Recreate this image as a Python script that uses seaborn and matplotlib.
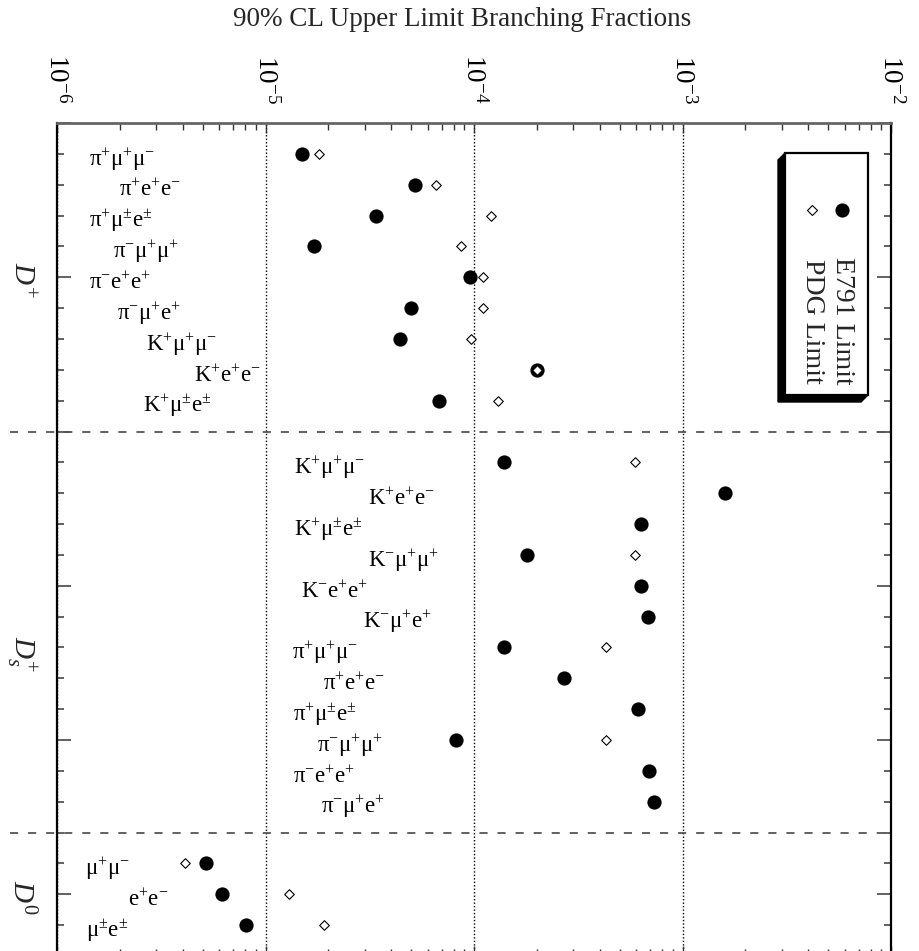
import numpy as np
import pandas as pd
import matplotlib
matplotlib.use("Agg")
import matplotlib.pyplot as plt
import matplotlib.transforms as mtransforms
from matplotlib.patches import Polygon, Rectangle
from matplotlib.lines import Line2D
from matplotlib.ticker import LogLocator, FixedLocator, NullFormatter, LogFormatterMathtext
import seaborn as sns

# ---------------- data ----------------
title = "90% CL Upper Limit Branching Fractions"
groups = [r"$D^{+}$", r"$D_{s}^{+}$", r"$D^{\mathit{0}}$"]

dplus_modes = [r"$\mathrm{π^{+}μ^{+}μ^{-}}$", r"$\mathrm{π^{+}e^{+}e^{-}}$", r"$\mathrm{π^{+}μ^{\pm}e^{\pm}}$",
               r"$\mathrm{π^{-}μ^{+}μ^{+}}$", r"$\mathrm{π^{-}e^{+}e^{+}}$", r"$\mathrm{π^{-}μ^{+}e^{+}}$",
               r"$\mathrm{K^{+}μ^{+}μ^{-}}$", r"$\mathrm{K^{+}e^{+}e^{-}}$", r"$\mathrm{K^{+}μ^{\pm}e^{\pm}}$"]
dplus_e791 = [1.5e-5, 5.2e-5, 3.4e-5, 1.7e-5, 9.6e-5, 5.0e-5, 4.4e-5, 2.0e-4, 6.8e-5]
dplus_pdg = [1.8e-5, 6.6e-5, 1.2e-4, 8.7e-5, 1.1e-4, 1.1e-4, 9.7e-5, 2.0e-4, 1.3e-4]

ds_modes = [r"$\mathrm{K^{+}μ^{+}μ^{-}}$", r"$\mathrm{K^{+}e^{+}e^{-}}$", r"$\mathrm{K^{+}μ^{\pm}e^{\pm}}$",
            r"$\mathrm{K^{-}μ^{+}μ^{+}}$", r"$\mathrm{K^{-}e^{+}e^{+}}$", r"$\mathrm{K^{-}μ^{+}e^{+}}$",
            r"$\mathrm{π^{+}μ^{+}μ^{-}}$", r"$\mathrm{π^{+}e^{+}e^{-}}$", r"$\mathrm{π^{+}μ^{\pm}e^{\pm}}$",
            r"$\mathrm{π^{-}μ^{+}μ^{+}}$", r"$\mathrm{π^{-}e^{+}e^{+}}$", r"$\mathrm{π^{-}μ^{+}e^{+}}$"]
ds_e791 = [1.4e-4, 1.6e-3, 6.3e-4, 1.8e-4, 6.3e-4, 6.8e-4, 1.4e-4, 2.7e-4, 6.1e-4, 8.2e-5, 6.9e-4, 7.3e-4]
ds_pdg = [5.9e-4, np.nan, np.nan, 5.9e-4, np.nan, np.nan, 4.3e-4, np.nan, np.nan, 4.3e-4, np.nan, np.nan]

d0_modes = [r"$\mathrm{μ^{+}μ^{-}}$", r"$\mathrm{e^{+}e^{-}}$", r"$\mathrm{μ^{\pm}e^{\pm}}$"]
d0_e791 = [5.2e-6, 6.2e-6, 8.1e-6]
d0_pdg = [4.1e-6, 1.3e-5, 1.9e-5]

legend_labels = ["E791 Limit", "PDG Limit"]

# ---------------- layout (not data) ----------------
dplus_label_x = [0.038, 0.074, 0.038, 0.067, 0.038, 0.072, 0.107, 0.164, 0.103]
ds_label_x = [0.284, 0.373, 0.284, 0.373, 0.293, 0.367, 0.282, 0.319, 0.283, 0.312, 0.283, 0.317]
d0_label_x = [0.034, 0.085, 0.035]
group_label_slot = [5.1, 17.2, 25.1]

# ---------------- build table ----------------
rows = []
slot = 1
seps = []
all_groups = [(dplus_modes, dplus_e791, dplus_pdg, dplus_label_x),
              (ds_modes, ds_e791, ds_pdg, ds_label_x),
              (d0_modes, d0_e791, d0_pdg, d0_label_x)]
for gi, (modes, e791, pdg, lx) in enumerate(all_groups):
    for m, e, p, x in zip(modes, e791, pdg, lx):
        rows.append(dict(group=gi, mode=m, e791=e, pdg=p, slot=slot, lx=x))
        slot += 1
    if gi < len(all_groups) - 1:
        seps.append(slot)
        slot += 1
df = pd.DataFrame(rows)
n_slots = slot  # bottom edge

# ---------------- style ----------------
sns.set_style("ticks")
plt.rcParams["font.family"] = ["Liberation Serif", "DejaVu Serif"]
plt.rcParams["mathtext.fontset"] = "custom"
plt.rcParams["mathtext.rm"] = "Liberation Serif"
plt.rcParams["mathtext.it"] = "Liberation Serif:italic"
plt.rcParams["mathtext.bf"] = "Liberation Serif:bold"

W, H = 919, 951
fig = plt.figure(figsize=(W / 100, H / 100), dpi=100)
ax = fig.add_axes([57 / W, 1 - 956 / H, 834 / W, 833 / H])

# data points
sns.scatterplot(data=df, x="e791", y="slot", ax=ax, marker="o", s=105, color="black",
                edgecolor="black", linewidth=0, legend=False, zorder=3)
sns.scatterplot(data=df.dropna(subset=["pdg"]), x="pdg", y="slot", ax=ax, marker="D", s=24,
                facecolor="white", edgecolor="black", linewidth=0.8, legend=False, zorder=4)

ax.set_xscale("log")
ax.set_xlim(1e-6, 1e-2)
ax.set_ylim(n_slots, 0)
ax.set_xlabel("")
ax.set_ylabel("")

# x axis: labels on top, rotated
ax.xaxis.set_major_locator(LogLocator(base=10, numticks=10))
ax.xaxis.set_minor_locator(LogLocator(base=10, subs=np.arange(2, 10), numticks=20))
ax.xaxis.set_major_formatter(LogFormatterMathtext())
ax.xaxis.set_minor_formatter(NullFormatter())
ax.tick_params(axis="x", which="both", top=True, bottom=True, labeltop=True, labelbottom=False,
               direction="in", colors="#333333", labelcolor="black", labelsize=19.5,
               labelrotation=-90, pad=14)
ax.tick_params(axis="x", which="major", length=7, width=1.0)
ax.tick_params(axis="x", which="minor", length=5, width=1.0)

# y axis: slot ticks, no labels
ax.yaxis.set_major_locator(FixedLocator(np.arange(0, n_slots + 1, 5)))
ax.yaxis.set_minor_locator(FixedLocator(np.arange(0, n_slots + 1, 1)))
ax.tick_params(axis="y", which="both", left=True, right=True, labelleft=False, labelright=False,
               direction="in", colors="#555555")
ax.tick_params(axis="y", which="major", length=10, width=1.3)
ax.tick_params(axis="y", which="minor", length=5, width=1.3)

for side in ["left", "right", "bottom"]:
    ax.spines[side].set_color("black")
    ax.spines[side].set_linewidth(1.6)
ax.spines["top"].set_color("#666666")
ax.spines["top"].set_linewidth(2.0)

# vertical dotted grid at decades
ax.xaxis.grid(True, which="major", color="black", linestyle=(0, (1, 1.5)), linewidth=1.0)
ax.yaxis.grid(False)

# dashed group separators
ax.hlines(seps, xmin=-47 / 834, xmax=1.0, transform=ax.get_yaxis_transform(), clip_on=False,
          colors="#555555", linestyles=(0, (4.5, 5.5)), linewidth=1.3, zorder=2)

# decay mode labels
ytrans = ax.get_yaxis_transform()
for _, r in df.iterrows():
    ax.text(r["lx"], r["slot"] + 0.38, r["mode"], transform=ytrans, ha="left", va="baseline",
            fontsize=16.5, color="black")

# group labels (rotated)
for g, ys in zip(groups, group_label_slot):
    ax.text(-36 / 834, ys, g, transform=ytrans, ha="center", va="center", rotation=-90,
            fontsize=21, fontstyle="italic", clip_on=False)

# title
fig.text(462 / W, 1 - 19 / H, title, ha="center", va="center", fontsize=19.5)

# legend drawn in pixel coordinates (rotated layout)
pix = mtransforms.Affine2D().scale(1 / W, -1 / H).translate(0, 1) + fig.transFigure
shadow = Polygon([(785, 153), (778, 160), (778, 402), (861, 402), (868, 395), (785, 395)],
                 closed=True, facecolor="black", edgecolor="black", transform=pix, zorder=5)
box = Rectangle((785, 153), 83, 242, facecolor="white", edgecolor="black", linewidth=1.6,
                transform=pix, zorder=6)
fig.add_artist(shadow)
fig.add_artist(box)
fig.add_artist(Line2D([842], [210], marker="o", markersize=10.2, color="black", markeredgewidth=0,
                      linestyle="none", transform=pix, zorder=7))
fig.add_artist(Line2D([812], [210], marker="D", markersize=4.8, markerfacecolor="white",
                      markeredgecolor="black", markeredgewidth=0.8, linestyle="none",
                      transform=pix, zorder=7))
fig.text(843 / W, 1 - 257 / H, legend_labels[0], rotation=-90, ha="center", va="top",
         fontsize=20, zorder=8)
fig.text(812 / W, 1 - 259 / H, legend_labels[1], rotation=-90, ha="center", va="top",
         fontsize=20, zorder=8)

fig.savefig("out.png", dpi=100)
